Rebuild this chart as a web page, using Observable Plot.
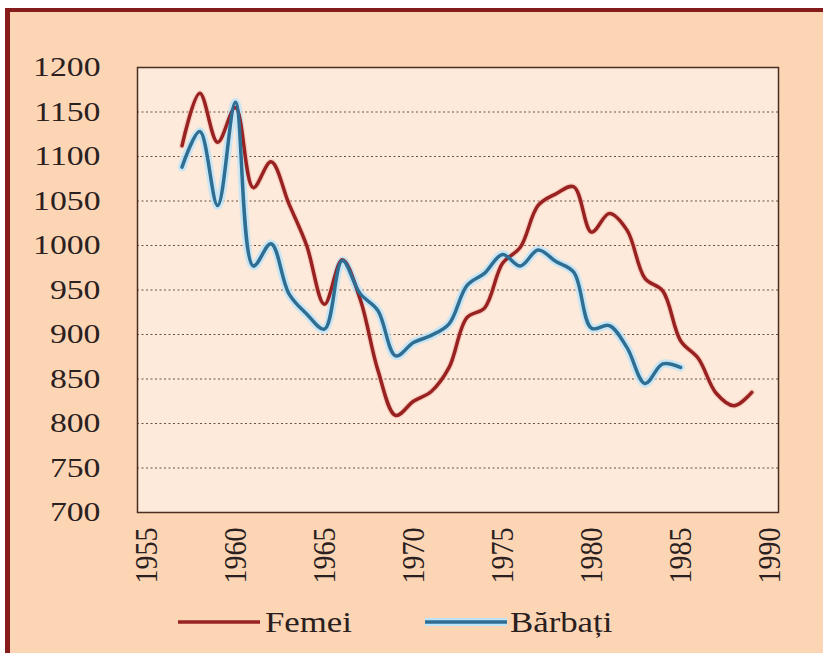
<!DOCTYPE html>
<html>
<head>
<meta charset="utf-8">
<script src="https://cdn.jsdelivr.net/npm/d3@7"></script>
<script src="https://cdn.jsdelivr.net/npm/@observablehq/plot@0.6"></script>
<style>
  body { margin: 0; background: #ffffff; }
  #wrap { position: relative; width: 823px; height: 653px; overflow: hidden; background: #ffffff; }
  #panel { position: absolute; left: 5px; top: 8px; width: 900px; height: 700px; background: #FCD5B5;
           border-left: 5px solid #861b1b; border-top: 4px solid #861b1b; }
  #chart { position: absolute; left: 0; top: 0; }
  #legend { position: absolute; left: 0; top: 600px; }
</style>
</head>
<body>
<div id="wrap">
  <div id="panel"></div>
  <div id="chart"></div>
  <div id="legend"></div>
</div>
<script>
// ---- data ----
const yearsFemei = [1957,1958,1959,1960,1961,1962,1963,1964,1965,1966,1967,1968,1969,1970,1971,1972,1973,1974,1975,1976,1977,1978,1979,1980,1981,1982,1983,1984,1985,1986,1987,1988,1989];
const femei = [1112,1171,1116,1155,1065,1094,1047,1000,934,984,940,860,809,825,836,863,919,930,980,998,1045,1058,1066,1015,1036,1017,963,949,893,873,834,820,835];

const yearsBarbati = [1957,1958,1959,1960,1961,1962,1963,1964,1965,1966,1967,1968,1969,1970,1971,1972,1973,1974,1975,1976,1977,1978,1979,1980,1981,1982,1983,1984,1985];
const barbati = [1088,1128,1045,1161,977,1002,946,923,906,983,946,927,876,891,899,912,955,969,990,977,995,982,970,907,910,885,845,867,863];

const xTicks = [1955,1960,1965,1970,1975,1980,1985,1990];
const yTicks = [700,750,800,850,900,950,1000,1050,1100,1150,1200];
const gridValues = [750,800,850,900,950,1000,1050,1100,1150];
const seriesNames = ["Femei", "Bărbați"];
const seriesColors = ["#982222", "#2f6e93"];

const femeiData = yearsFemei.map((yr, i) => ({year: yr, value: femei[i]}));
const barbatiData = yearsBarbati.map((yr, i) => ({year: yr, value: barbati[i]}));

const chart = Plot.plot({
  width: 823,
  height: 600,
  marginLeft: 137,
  marginRight: 45,
  marginTop: 67,
  marginBottom: 88,
  style: {background: "transparent", fontFamily: "'Liberation Serif', 'Times New Roman', serif", fontSize: "27px", color: "#2a2020"},
  x: {domain: [1954.5, 1990.5], ticks: xTicks, tickFormat: d => String(d), tickRotate: -90, tickSize: 0, tickPadding: 15, label: null},
  y: {domain: [700, 1200], ticks: yTicks, tickFormat: d => String(d), tickSize: 0, tickPadding: 37, label: null},
  marks: [
    Plot.frame({fill: "#FDEADB"}),
    Plot.ruleY(gridValues, {stroke: "#6e5040", strokeDasharray: "2,2.5", strokeWidth: 1.2}),
    Plot.line(femeiData, {x: "year", y: "value", stroke: "#f2b6a6", strokeWidth: 6, strokeOpacity: 0.5, curve: "catmull-rom"}),
    Plot.line(barbatiData, {x: "year", y: "value", stroke: "#bfe4f7", strokeWidth: 8.5, strokeOpacity: 0.85, curve: "catmull-rom"}),
    Plot.line(femeiData, {x: "year", y: "value", stroke: seriesColors[0], strokeWidth: 3.5, curve: "catmull-rom"}),
    Plot.line(barbatiData, {x: "year", y: "value", stroke: seriesColors[1], strokeWidth: 3.5, curve: "catmull-rom"}),
    Plot.frame({stroke: "#4b2e22", strokeWidth: 1.5})
  ]
});

// stretch tick labels horizontally like the reference
chart.querySelectorAll('g[aria-label="y-axis tick label"] text').forEach(t => {
  t.setAttribute("transform", (t.getAttribute("transform") || "") + " scale(1.25,1)");
});
chart.querySelectorAll('g[aria-label="x-axis tick label"] text').forEach(t => {
  t.setAttribute("transform", (t.getAttribute("transform") || "") + " scale(1,1.15)");
  t.setAttribute("font-size", "28");
});
document.getElementById("chart").appendChild(chart);

// legend
const ns = "http://www.w3.org/2000/svg";
const lg = document.createElementNS(ns, "svg");
lg.setAttribute("width", 823);
lg.setAttribute("height", 50);
const items = [
  {x1: 178, x2: 260, tx: 265},
  {x1: 425, x2: 507, tx: 510}
];
items.forEach((it, i) => {
  if (i === 1) {
    const glow = document.createElementNS(ns, "line");
    glow.setAttribute("x1", it.x1); glow.setAttribute("x2", it.x2);
    glow.setAttribute("y1", 22); glow.setAttribute("y2", 22);
    glow.setAttribute("stroke", "#bfe4f7"); glow.setAttribute("stroke-width", 8);
    lg.appendChild(glow);
  }
  const ln = document.createElementNS(ns, "line");
  ln.setAttribute("x1", it.x1); ln.setAttribute("x2", it.x2);
  ln.setAttribute("y1", 22); ln.setAttribute("y2", 22);
  ln.setAttribute("stroke", seriesColors[i]); ln.setAttribute("stroke-width", 3.5);
  lg.appendChild(ln);
  const tx = document.createElementNS(ns, "text");
  tx.setAttribute("x", 0); tx.setAttribute("y", 0);
  tx.setAttribute("transform", `translate(${it.tx},32) scale(1.2,1)`);
  tx.setAttribute("font-family", "'Liberation Serif', 'Times New Roman', serif");
  tx.setAttribute("font-size", 29);
  tx.setAttribute("fill", "#2a2020");
  tx.textContent = seriesNames[i];
  lg.appendChild(tx);
});
document.getElementById("legend").appendChild(lg);
</script>
</body>
</html>
